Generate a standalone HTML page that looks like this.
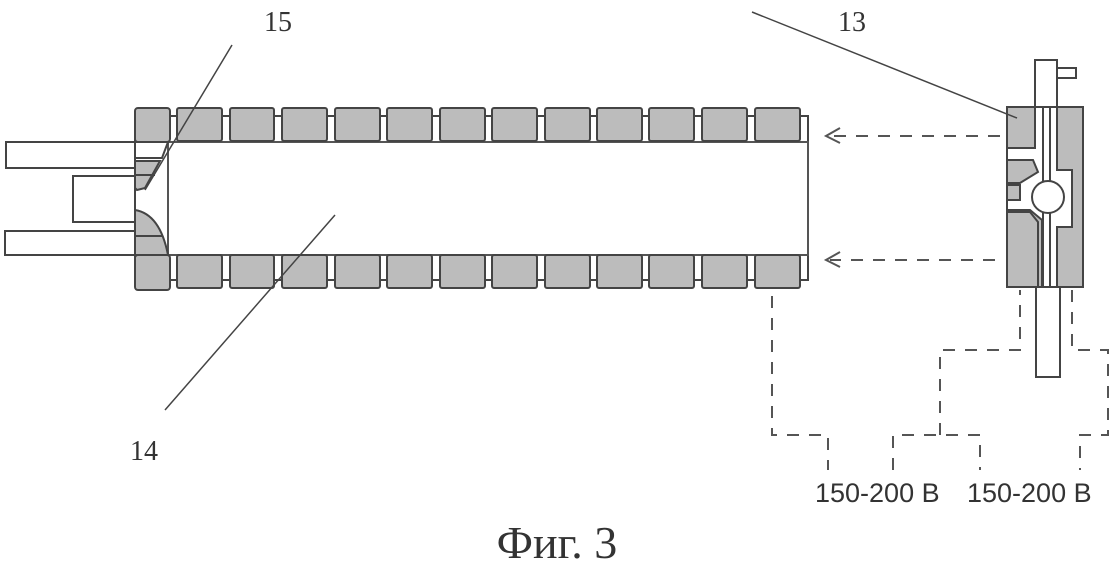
<!DOCTYPE html>
<html><head><meta charset="utf-8"><style>
html,body{margin:0;padding:0;background:#fff;}
svg{display:block;}
text{font-family:"Liberation Sans",sans-serif;fill:#333;}
</style></head><body>
<svg width="1114" height="564" viewBox="0 0 1114 564" xmlns="http://www.w3.org/2000/svg">
<g stroke="#444" stroke-width="2" fill="none">
<rect x="135" y="116" width="673" height="164" fill="#fff"/>
<rect x="168" y="142" width="640" height="113" fill="#fff" stroke="#555"/>
<rect x="6" y="142" width="129" height="26" fill="#fff"/>
<rect x="73" y="176" width="62" height="46" fill="#fff"/>
<rect x="5" y="231" width="130" height="24" fill="#fff"/>
</g>
<g stroke="#444" stroke-width="2" fill="#bcbcbc">
<rect x="135" y="108" width="35" height="34" rx="3"/>
<rect x="135" y="255" width="35" height="35" rx="3"/>
<path d="M135 142 L168 142 L162 158 L135 158 Z" fill="#fff"/>
<path d="M135 161 L160 161 L145 188 L137 190 L135 188 Z"/>
<path d="M135 210 Q160 214 168 255 L135 255 Z"/>
<line x1="135" y1="236" x2="163" y2="236"/>
<line x1="135" y1="175" x2="155" y2="175"/>
</g>
<g stroke="#444" stroke-width="2" fill="#bcbcbc">
<rect x="177" y="108" width="45" height="33" rx="2"/><rect x="230" y="108" width="44" height="33" rx="2"/>
<rect x="282" y="108" width="45" height="33" rx="2"/><rect x="335" y="108" width="45" height="33" rx="2"/>
<rect x="387" y="108" width="45" height="33" rx="2"/><rect x="440" y="108" width="45" height="33" rx="2"/>
<rect x="492" y="108" width="45" height="33" rx="2"/><rect x="545" y="108" width="45" height="33" rx="2"/>
<rect x="597" y="108" width="45" height="33" rx="2"/><rect x="649" y="108" width="45" height="33" rx="2"/>
<rect x="702" y="108" width="45" height="33" rx="2"/><rect x="755" y="108" width="45" height="33" rx="2"/>
<rect x="177" y="255" width="45" height="33" rx="2"/><rect x="230" y="255" width="44" height="33" rx="2"/>
<rect x="282" y="255" width="45" height="33" rx="2"/><rect x="335" y="255" width="45" height="33" rx="2"/>
<rect x="387" y="255" width="45" height="33" rx="2"/><rect x="440" y="255" width="45" height="33" rx="2"/>
<rect x="492" y="255" width="45" height="33" rx="2"/><rect x="545" y="255" width="45" height="33" rx="2"/>
<rect x="597" y="255" width="45" height="33" rx="2"/><rect x="649" y="255" width="45" height="33" rx="2"/>
<rect x="702" y="255" width="45" height="33" rx="2"/><rect x="755" y="255" width="45" height="33" rx="2"/>
</g>
<g stroke="#444" stroke-width="2">
<rect x="1035" y="60" width="22" height="47" fill="#fff"/>
<rect x="1057" y="68" width="19" height="10" fill="#fff"/>
<rect x="1036" y="287" width="24" height="90" fill="#fff"/>
<rect x="1007" y="107" width="76" height="180" fill="#bcbcbc"/>
<path d="M1035 107 L1057 107 L1057 170 L1072 170 L1072 227 L1057 227 L1057 287 L1042 287 L1042 220 L1030 210 L1007 210 L1007 200 L1020 200 L1020 185 L1007 185 L1007 148 L1035 148 Z" fill="#fff"/>
<path d="M1007 160 L1033 160 L1038 172 L1020 183 L1007 183 Z" fill="#bcbcbc"/>
<path d="M1007 212 L1030 212 L1038 222 L1038 287 L1007 287 Z" fill="#bcbcbc"/>
<line x1="1043" y1="107" x2="1043" y2="287"/><line x1="1050" y1="107" x2="1050" y2="287"/>
<circle cx="1048" cy="197" r="16" fill="#fff"/>
</g>
<g stroke="#555" stroke-width="2" fill="none" stroke-dasharray="12,10">
<line x1="1000" y1="136" x2="830" y2="136"/>
<line x1="995" y1="260" x2="830" y2="260"/>
<polyline points="772,296 772,435 828,435 828,470"/>
<polyline points="893,470 893,435 980,435 980,470"/>
<polyline points="940,435 940,350 1020,350 1020,290"/>
<polyline points="1072,290 1072,350 1108,350 1108,435 1080,435 1080,470"/>
</g>
<g stroke="#555" stroke-width="2" fill="none">
<polyline points="840,128 826,136 840,143"/>
<polyline points="840,252 826,260 840,267"/>
</g>
<g stroke="#444" stroke-width="1.5">
<line x1="232" y1="45" x2="145" y2="190"/>
<line x1="752" y1="12" x2="1017" y2="118"/>
<line x1="165" y1="410" x2="335" y2="215"/>
</g>
<text x="264" y="31" font-size="28" style="font-family:'Liberation Serif',serif">15</text>
<text x="838" y="31" font-size="28" style="font-family:'Liberation Serif',serif">13</text>
<text x="130" y="460" font-size="28" style="font-family:'Liberation Serif',serif">14</text>
<text x="815" y="502" font-size="27" fill="#222">150-200 В</text>
<text x="967" y="502" font-size="27" fill="#222">150-200 В</text>
<text x="557" y="558" font-size="46" text-anchor="middle" style="font-family:'Liberation Serif',serif">Фиг. 3</text>
</svg>
</body></html>
